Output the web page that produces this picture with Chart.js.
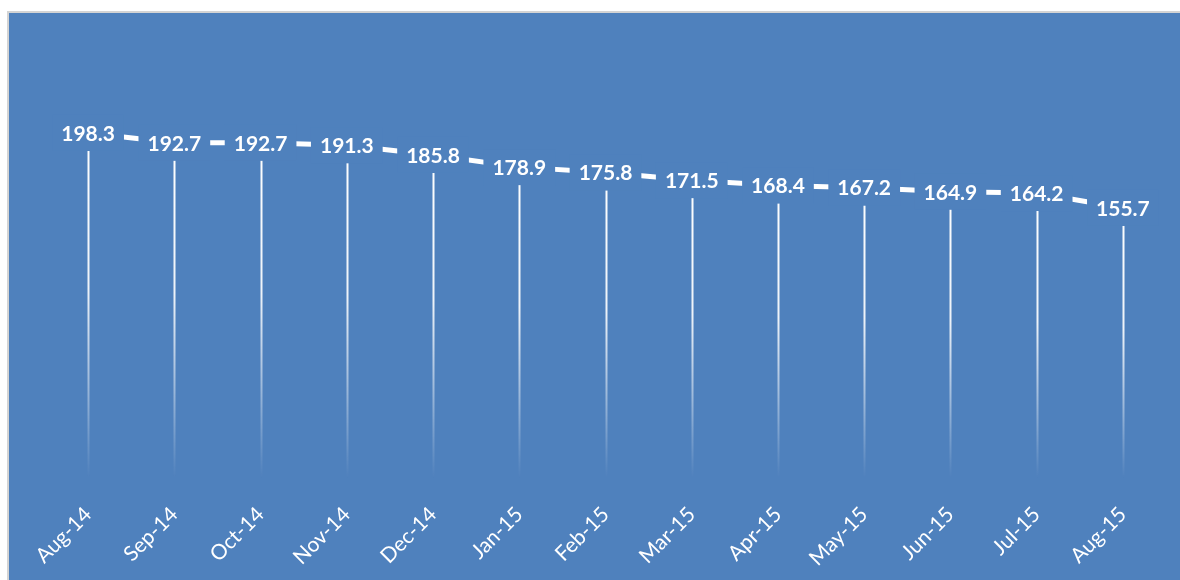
<!DOCTYPE html>
<html>
<head>
<meta charset="utf-8">
<script src="https://cdn.jsdelivr.net/npm/chart.js@4/dist/chart.umd.min.js"></script>
<style>
  html, body { margin: 0; padding: 0; background: #ffffff; width: 1180px; height: 580px; overflow: hidden; }
  #frame { position: absolute; left: 7px; top: 11px; width: 1173px; height: 569px; border-left: 2px solid #d4d4d4; border-top: 2px solid #d4d4d4; background: #4f81bd; }
  #c { position: absolute; left: 9px; top: 13px; }
</style>
</head>
<body>
<div id="frame"></div>
<canvas id="c" width="1171" height="567"></canvas>
<script>
const categories = ['Aug-14','Sep-14','Oct-14','Nov-14','Dec-14','Jan-15','Feb-15','Mar-15','Apr-15','May-15','Jun-15','Jul-15','Aug-15'];
const values = [198.3, 192.7, 192.7, 191.3, 185.8, 178.9, 175.8, 171.5, 168.4, 167.2, 164.9, 164.2, 155.7];
const yMin = 0;
const yMax = 250;

const BG = '#4f81bd';

const dropLines = {
  id: 'dropLines',
  beforeDatasetsDraw(chart) {
    const ctx = chart.ctx;
    const meta = chart.getDatasetMeta(0);
    const bottom = chart.chartArea.bottom - 4;
    ctx.save();
    meta.data.forEach(pt => {
      const g = ctx.createLinearGradient(0, pt.y, 0, bottom);
      g.addColorStop(0, 'rgba(255,255,255,1)');
      g.addColorStop(0.45, 'rgba(255,255,255,0.9)');
      g.addColorStop(1, 'rgba(255,255,255,0)');
      ctx.strokeStyle = g;
      ctx.lineWidth = 2;
      ctx.beginPath();
      ctx.moveTo(Math.round(pt.x) + 0.5, pt.y);
      ctx.lineTo(Math.round(pt.x) + 0.5, bottom);
      ctx.stroke();
    });
    ctx.restore();
  }
};

const labelBoxes = {
  id: 'labelBoxes',
  afterDatasetsDraw(chart) {
    const ctx = chart.ctx;
    const meta = chart.getDatasetMeta(0);
    const ds = chart.data.datasets[0].data;
    ctx.save();
    ctx.font = 'bold 21px Lato, "Open Sans", sans-serif';
    ctx.textAlign = 'center';
    ctx.textBaseline = 'middle';
    meta.data.forEach((pt, i) => {
      const txt = ds[i].toFixed(1);
      const w = ctx.measureText(txt).width;
      ctx.fillStyle = BG;
      ctx.fillRect(pt.x - w / 2 - 9, pt.y - 18, w + 18, 36);
      ctx.fillStyle = '#ffffff';
      ctx.fillText(txt, pt.x, pt.y + 1);
    });
    ctx.restore();
  }
};

new Chart(document.getElementById('c'), {
  type: 'line',
  data: {
    labels: categories,
    datasets: [{
      data: values,
      borderColor: '#ffffff',
      borderWidth: 5,
      pointRadius: 0,
      pointHoverRadius: 0,
      fill: false,
      tension: 0
    }]
  },
  options: {
    responsive: false,
    animation: false,
    devicePixelRatio: 1,
    layout: { padding: { left: 36, right: 14, top: 29, bottom: 0 } },
    plugins: { legend: { display: false }, tooltip: { enabled: false } },
    scales: {
      x: {
        offset: true,
        grid: { display: false },
        border: { display: false },
        ticks: {
          color: '#ffffff',
          font: { family: 'Lato, "Open Sans", sans-serif', size: 21 },
          maxRotation: 45,
          minRotation: 45,
          padding: 12,
          autoSkip: false
        },
        afterFit(scale) { scale.height = 98; }
      },
      y: {
        display: false,
        min: yMin,
        max: yMax
      }
    }
  },
  plugins: [dropLines, labelBoxes]
});
</script>
</body>
</html>
